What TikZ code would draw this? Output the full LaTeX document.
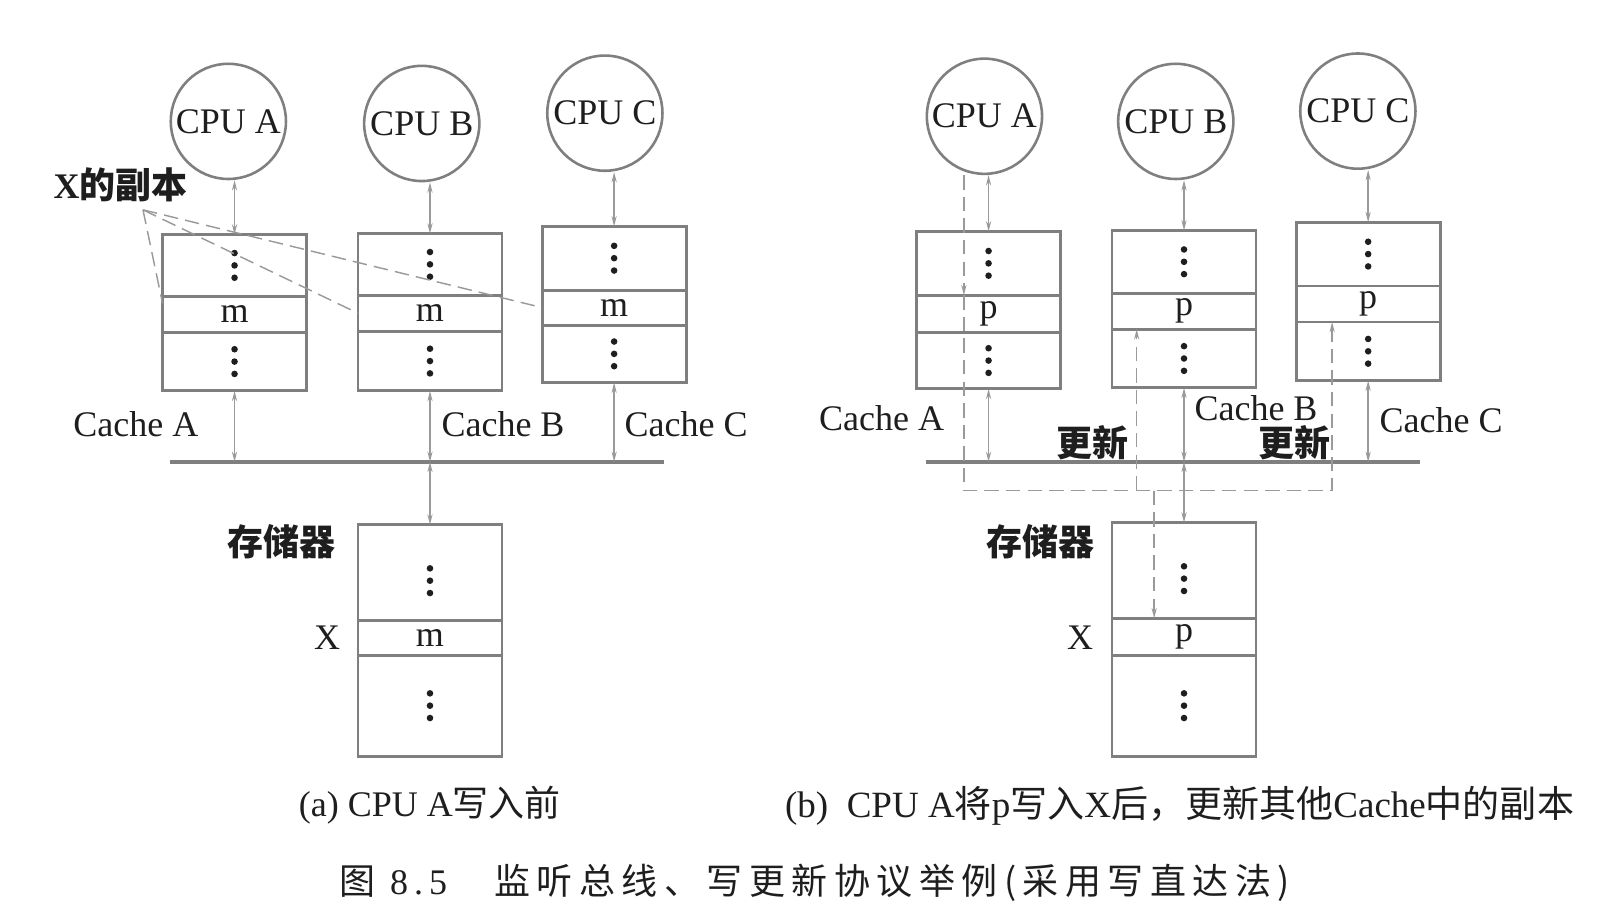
\documentclass[tikz,border=0pt]{standalone}
\usepackage{fontspec}
\setmainfont{Liberation Serif}
\newfontfamily\cjk{Noto Sans CJK SC}
\newfontfamily\cjkls{Noto Sans CJK SC}[LetterSpace=18]
\usetikzlibrary{arrows.meta,calc}
\definecolor{linegray}{HTML}{7F7F7F}
\definecolor{arrgray}{HTML}{9A9A9A}
\definecolor{txt}{HTML}{1E1E1E}
\newcommand\zh[1]{{\cjk #1}}
\newcommand\zhb[1]{{\cjk\bfseries #1}}
\newcommand\fsL{\fontsize{35pt}{40pt}\selectfont}
\newcommand\fsC{\fontsize{35pt}{40pt}\selectfont}
\newcommand\fsB{\fontsize{36pt}{40pt}\selectfont}
\newcommand\fsF{\fontsize{35pt}{40pt}\selectfont}
\newcommand\mystack[8]{%
  \node[cell, minimum height=#4pt] (#1t) at (#2,#3) {};
  \node[cell, minimum height=#5pt] (#1m) at (#1t.south) {#7};
  \node[cell, minimum height=#6pt] (#1b) at (#1m.south) {};
  \foreach \d in {-12,0,12}{%
    \fill[txt] ($(#1t.center)+(0,#8+\d)$) circle (3.2pt);
    \fill[txt] ($(#1b.center)+(0,\d)$) circle (3.2pt);}%
}
\begin{document}
\begin{tikzpicture}[x=1pt,y=-1pt,
  cpu/.style={circle, draw=linegray, line width=2.5pt, minimum size=112pt, inner sep=0pt, font=\fsL, text=txt},
  cell/.style={rectangle, draw=linegray, line width=2.8pt, minimum width=140pt, inner sep=0pt, outer sep=0pt, font=\fsL, text=txt, anchor=north},
  arr/.style={draw=arrgray, line width=1.4pt, {Stealth[length=10pt,width=5pt]}-{Stealth[length=10pt,width=5pt]}},
  dsh/.style={draw=arrgray, line width=1.4pt, dash pattern=on 14pt off 7pt},
  dsharr/.style={dsh, -{Stealth[length=10pt,width=5pt]}},
  bus/.style={draw=linegray, line width=3.5pt},
  lbl/.style={font=\fsL, text=txt, inner sep=0pt},
  captext/.style={font=\fsC, text=txt, inner sep=0pt}]
\useasboundingbox (0,0) rectangle (1569,894.4);
\fill[white] (0,0) rectangle (1569,894.4);
% ---------------- (a) ----------------
\node[cpu] (cpuA) at (222,118) {CPU A};
\node[cpu] (cpuB) at (410,120) {CPU B};
\node[cpu] (cpuC) at (588,110) {CPU C};
\mystack{cA}{228}{228}{60}{35}{57}{m}{0}
\mystack{cB}{418}{227}{60}{35}{58}{m}{0}
\mystack{cC}{597}{220}{62}{34}{56}{m}{0}
\mystack{mA}{418}{510}{93}{34}{98}{m}{8}
\coordinate (busAL) at (165,449);
\coordinate (busAR) at (645,449);
\draw[bus] (busAL) -- (busAR);
\foreach \c/\p in {cA/cpuA,cB/cpuB,cC/cpuC}{
  \draw[arr] (\p.south -| \c t.north) -- (\c t.north);
  \draw[arr] (\c b.south) -- (\c b.south |- busAL);
}
\draw[arr] (busAL -| mAt.north) -- (mAt.north);
\node[lbl, anchor=west] (xcopy) at (52,180) {\textbf{X}\zhb{的副本}};
\coordinate (xo) at (139,204);
\draw[dsh] (xo) -- ($(cAm.north west)!.2!(cAm.south west)$);
\draw[dsh] (xo) -- (cBm.west);
\draw[dsh] (xo) -- (cCm.west);
\node[lbl, anchor=east] (lcA) at (193,412) {Cache A};
\node[lbl, anchor=west] (lcB) at (429,412) {Cache B};
\node[lbl, anchor=west] (lcC) at (607,412) {Cache C};
\node[lbl, anchor=east] (lmA) at (326,527) {\zhb{存储器}};
\node[lbl] (lxA) at (318,620) {X};
\node[captext] (capa) at (418,783) {(a) CPU A\zh{写入前}};
% ---------------- (b) ----------------
\node[cpu] (cpuA2) at (957,113) {CPU A};
\node[cpu] (cpuB2) at (1143,118) {CPU B};
\node[cpu] (cpuC2) at (1320,108) {CPU C};
\mystack{dA}{961}{225}{62}{36}{55}{p}{0}
\mystack{dB}{1151}{224}{61}{35}{57}{p}{0}
\mystack{dC}{1330}{216}{62}{35}{57}{p}{0}
\mystack{mB}{1151}{508}{93}{36}{98}{p}{8}
\coordinate (busBL) at (900,449);
\coordinate (busBR) at (1380,449);
\draw[bus] (busBL) -- (busBR);
\foreach \c/\p in {dA/cpuA2,dB/cpuB2,dC/cpuC2}{
  \draw[arr] (\p.south -| \c t.north) -- (\c t.north);
  \draw[arr] (\c b.south) -- (\c b.south |- busBL);
}
\draw[arr] (busBL -| mBt.north) -- (mBt.north);
\coordinate (d0) at (937,477);
\coordinate (d1) at (1295,477);
\coordinate (b1) at (1105,477);
\coordinate (b2) at (1122,477);
\draw[dsharr] (cpuA2.south -| d0) -- (d0 |- dAm.north);
\draw[dsharr] (d0 |- dAm.north) -- (d0) -- (d1) -- (d1 |- dCm.south);
\draw[dsharr] (b1) -- (b1 |- dBm.south);
\draw[dsharr] (b2) -- (b2 |- mBm.north);
\node[lbl, anchor=east] (lcA2) at (918,407) {Cache A};
\node[lbl, anchor=west] (lcB2) at (1161,397) {Cache B};
\node[lbl, anchor=west] (lcC2) at (1341,408) {Cache C};
\node[lbl] (up1) at (1062,430) {\zhb{更新}};
\node[lbl] (up2) at (1258,430) {\zhb{更新}};
\node[lbl, anchor=east] (lmB) at (1064,527) {\zhb{存储器}};
\node[lbl] (lxB) at (1050,620) {X};
\node[captext, font=\fsB, anchor=west] (capb) at (763,783) {(b)\ \ CPU A\zh{将}p\zh{写入}X\zh{后，更新其他}Cache\zh{中的副本}};
% ---------------- figure caption ----------------
\node[captext, font=\fsF, anchor=west] (fig) at (330,858) {\cjkls 图\ {\rmfamily 8\,.\,5}\hspace{46pt}监听总线、写更新协议举例(采用写直达法)};
\end{tikzpicture}
\end{document}
